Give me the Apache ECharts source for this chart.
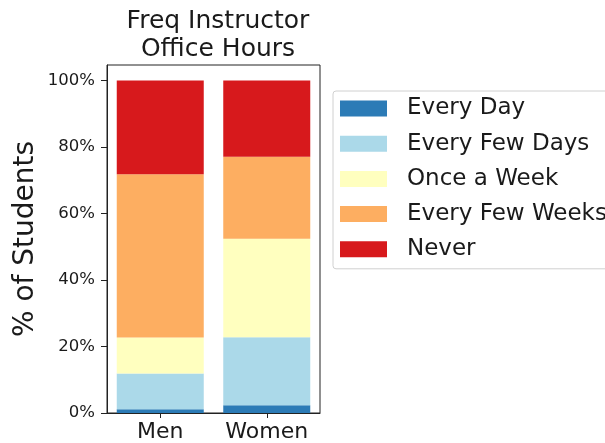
<!DOCTYPE html>
<html><head><meta charset="utf-8">
<script src="https://cdn.jsdelivr.net/npm/echarts@6/dist/echarts.min.js"></script>
<style>html,body{margin:0;padding:0;background:#fff}#c{width:605px;height:443px}</style>
</head><body><div id="c"></div>
<script>
const categories = ['Men', 'Women'];
const seriesNames = ['Every Day', 'Every Few Days', 'Once a Week', 'Every Few Weeks', 'Never'];
const everyDay = [1.1, 2.3];
const everyFewDays = [10.8, 20.5];
const onceAWeek = [10.8, 29.6];
const everyFewWeeks = [49.1, 24.7];
const never = [28.2, 22.9];
const yTicks = [0, 20, 40, 60, 80, 100];
const colors = ['#2c7bb6', '#abd9e9', '#ffffbf', '#fdae61', '#d7191c'];
const values = [everyDay, everyFewDays, onceAWeek, everyFewWeeks, never];

const font = 'DejaVu Sans';
const txt = '#1a1a1a';
const chart = echarts.init(document.getElementById('c'), null, {renderer: 'canvas'});
chart.setOption({
  animation: false,
  title: {
    text: 'Freq Instructor\nOffice Hours',
    left: 213, top: 3, textAlign: 'center',
    textStyle: {fontFamily: font, fontSize: 25, fontWeight: 'normal', color: txt, lineHeight: 27.5}
  },
  legend: {
    orient: 'vertical', left: 333, top: 91,
    data: seriesNames,
    icon: 'rect', itemWidth: 47, itemHeight: 16, itemGap: 12.2,
    padding: [6, 12, 8, 7],
    borderColor: '#d0d0d0', borderWidth: 1, borderRadius: 3,
    textStyle: {fontFamily: font, fontSize: 23, color: txt, padding: [0, 0, 0, 15]}
  },
  grid: {left: 107, right: 285, top: 65, bottom: 30, show: true, borderColor: '#222', borderWidth: 1},
  xAxis: {
    type: 'category', data: categories,
    axisLine: {show: true, lineStyle: {color: '#222'}},
    axisTick: {show: true, alignWithLabel: true, length: 5, lineStyle: {color: '#222'}},
    axisLabel: {fontFamily: font, fontSize: 22, color: txt, margin: 8, interval: 0}
  },
  yAxis: {
    type: 'value', min: 0, max: 104.7,
    name: '% of Students', nameLocation: 'middle', nameGap: 67,
    nameTextStyle: {fontFamily: font, fontSize: 28, color: txt},
    splitLine: {show: false},
    axisLine: {show: true, lineStyle: {color: '#222'}},
    axisTick: {show: true, length: 6, customValues: yTicks, lineStyle: {color: '#222'}},
    axisLabel: {fontFamily: font, fontSize: 16.5, color: txt, margin: 12, customValues: yTicks,
      formatter: v => Math.round(v) + '%'}
  },
  series: seriesNames.map((n, i) => ({
    name: n, type: 'bar', stack: 'total', data: values[i], barWidth: 87,
    itemStyle: {color: colors[i]}
  }))
});
</script></body></html>
